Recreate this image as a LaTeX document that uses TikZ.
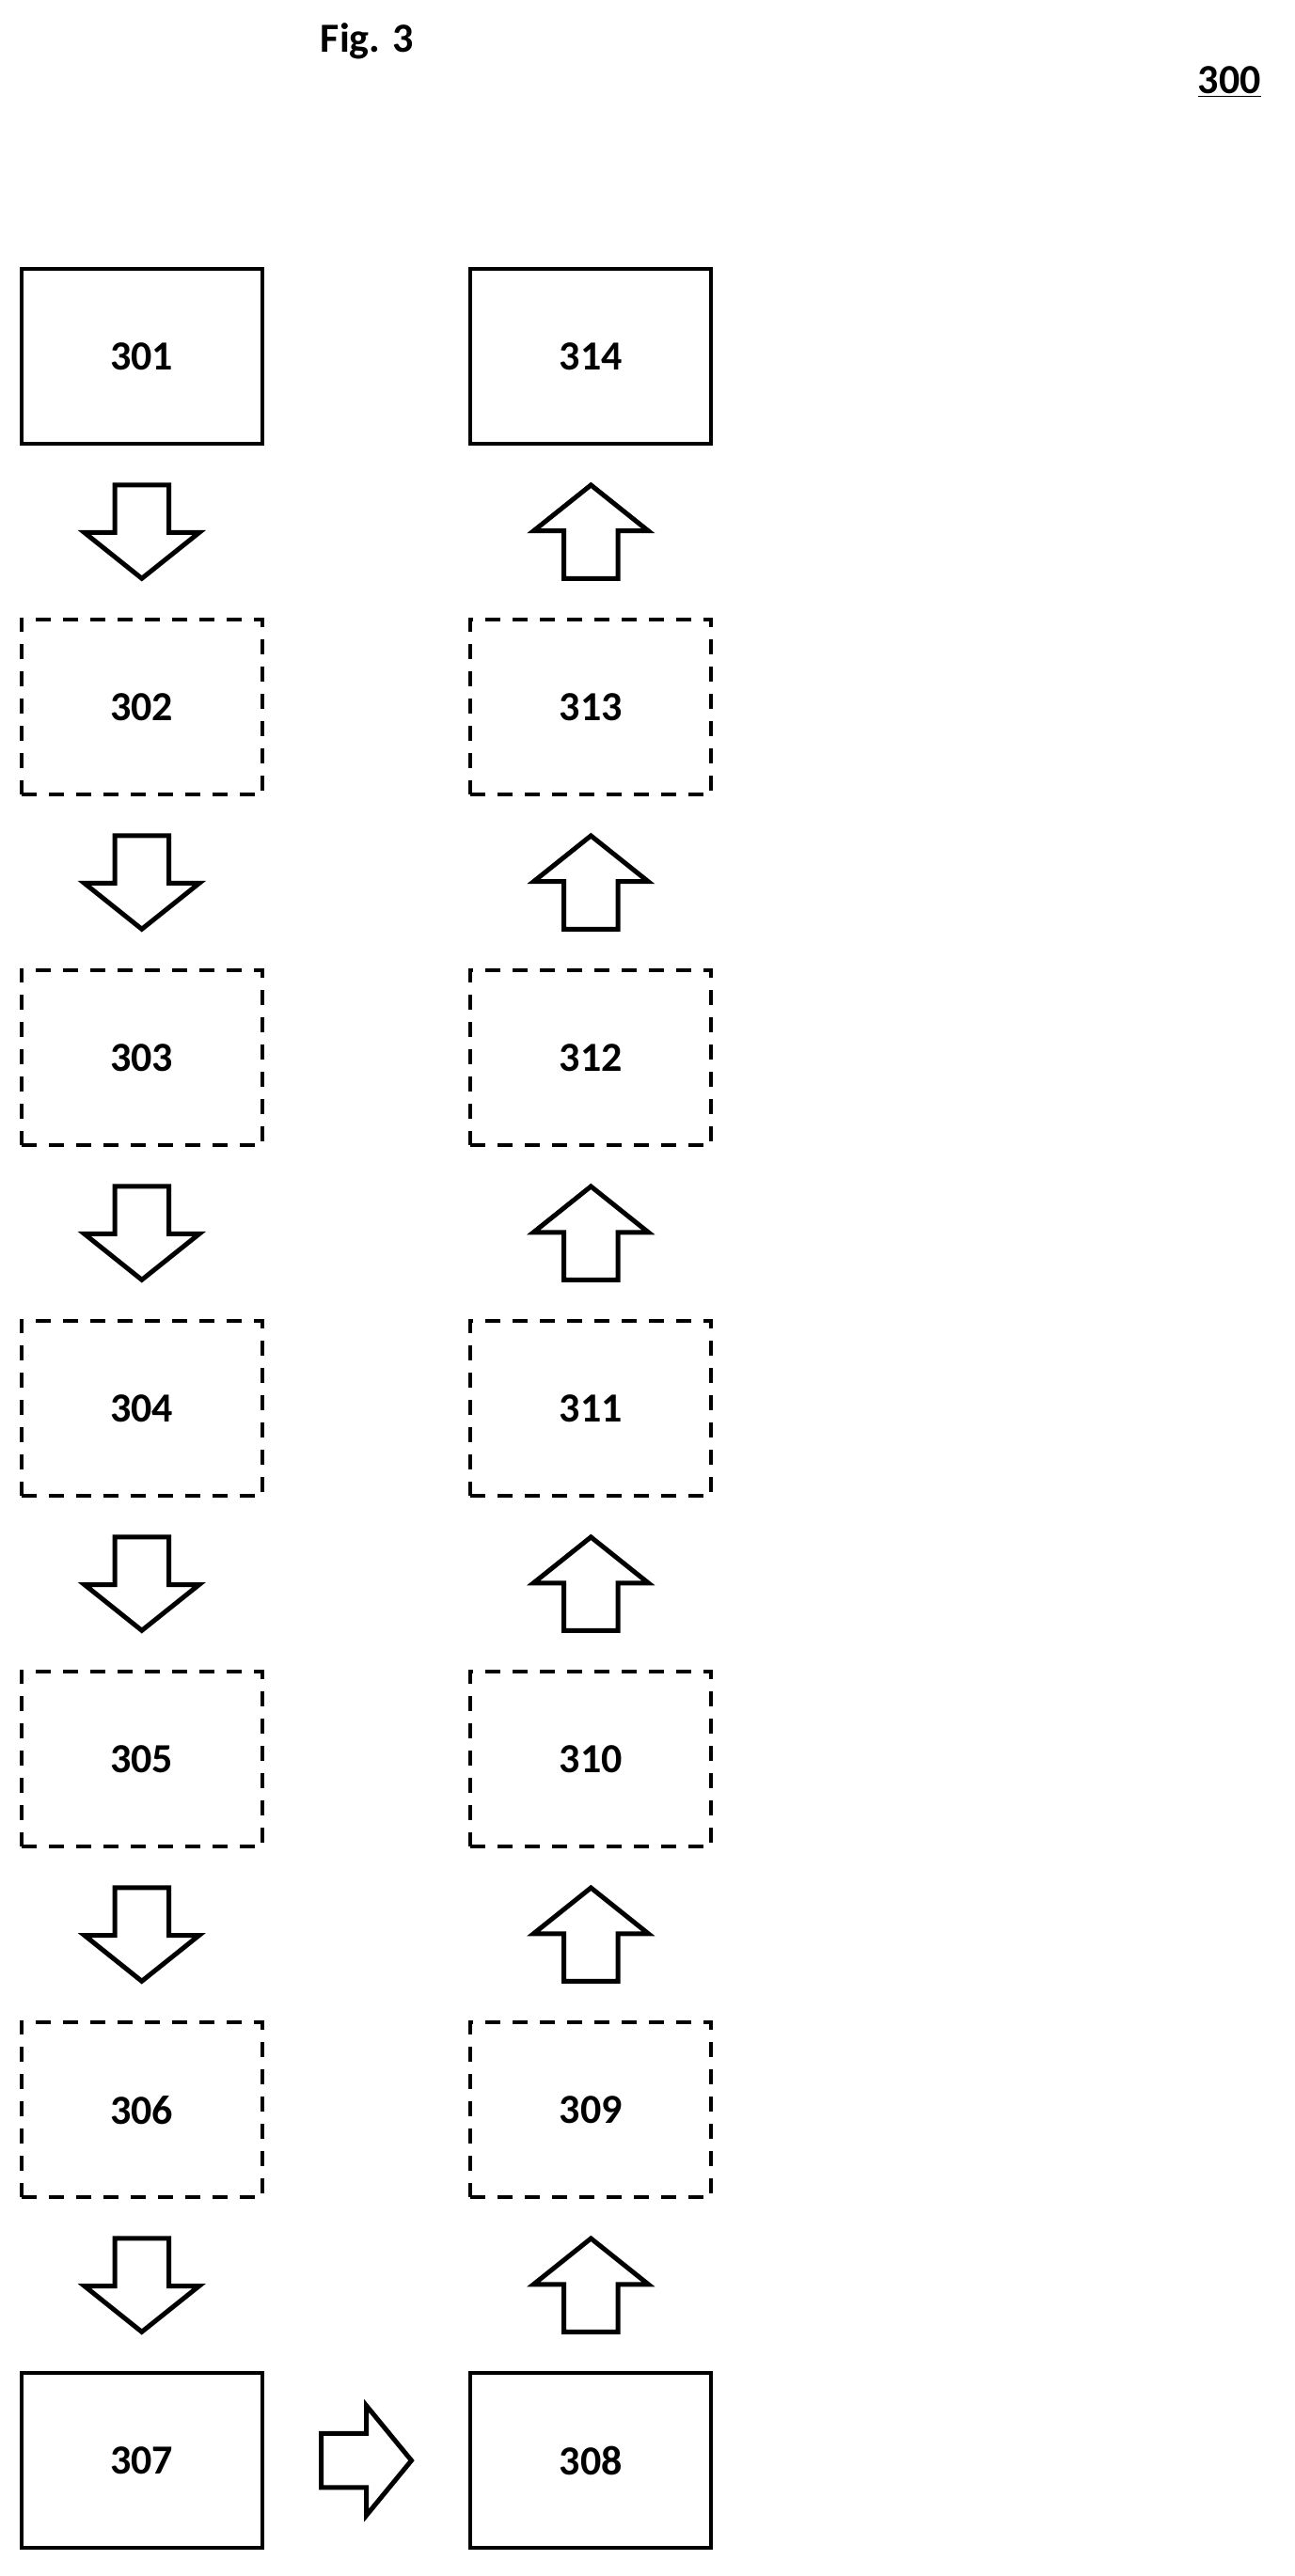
\documentclass[tikz,border=0pt]{standalone}
\usepackage{fontspec}
\setmainfont{Carlito}
\usetikzlibrary{calc}
\begin{document}
\begin{tikzpicture}[x=0.8715pt,y=-0.8715pt,
  box/.style={draw,line width=2pt,minimum width=128.1pt,minimum height=93.2pt,inner sep=0pt,font=\fontsize{22}{26}\selectfont\bfseries},
  dbox/.style={box,dash pattern=on 8pt off 6.5pt},
  blk/.style={draw,line width=2.5pt,fill=white,line join=miter},
  downarr/.pic={\draw[blk] (-16.5,-28.5)--(16.5,-28.5)--(16.5,0.5)--(35,0.5)--(0,28.5)--(-35,0.5)--(-16.5,0.5)--cycle;},
  uparr/.pic={\draw[blk] (-16.5,28.5)--(16.5,28.5)--(16.5,-0.5)--(35,-0.5)--(0,-28.5)--(-35,-0.5)--(-16.5,-0.5)--cycle;},
  rarr/.pic={\draw[blk] (-27.5,-16.5)--(-27.5,16.5)--(0,16.5)--(0,33.5)--(27.5,0)--(0,-33.5)--(0,-16.5)--cycle;}]
\useasboundingbox (0,0) rectangle (790,1572);
\node[font=\fontsize{22}{26}\selectfont\bfseries] (fig) at (224,25) {Fig. 3};
\node[font=\fontsize{22}{26}\selectfont\bfseries] (num) at (750,50) {\underline{300}};
\node[box] (b301) at (86.5,217.5) {301};
\node[dbox] (b302) at (86.5,431.5) {302};
\node[dbox] (b303) at (86.5,645.5) {303};
\node[dbox] (b304) at (86.5,859.5) {304};
\node[dbox] (b305) at (86.5,1073.5) {305};
\node[dbox] (b306) at (86.5,1287.5) {306};
\node[box] (b307) at (86.5,1501.5) {307};
\node[box] (b308) at (360.5,1501.5) {308};
\node[dbox] (b309) at (360.5,1287.5) {309};
\node[dbox] (b310) at (360.5,1073.5) {310};
\node[dbox] (b311) at (360.5,859.5) {311};
\node[dbox] (b312) at (360.5,645.5) {312};
\node[dbox] (b313) at (360.5,431.5) {313};
\node[box] (b314) at (360.5,217.5) {314};
\foreach \a/\b in {301/302,302/303,303/304,304/305,305/306,306/307}
  \path ($(b\a.south)!0.5!(b\b.north)$) pic {downarr};
\foreach \a/\b in {308/309,309/310,310/311,311/312,312/313,313/314}
  \path ($(b\a.north)!0.5!(b\b.south)$) pic {uparr};
\path ($(b307.east)!0.5!(b308.west)$) pic {rarr};
\end{tikzpicture}
\end{document}
